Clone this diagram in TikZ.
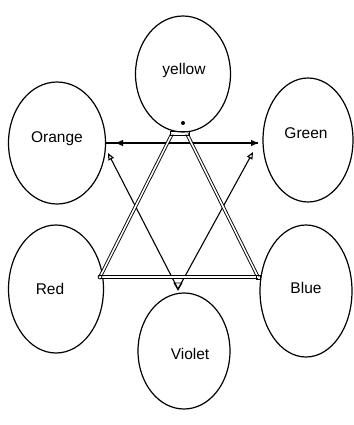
\documentclass[tikz,border=0pt]{standalone}
\usepackage{fontspec}
\setmainfont{Liberation Sans}
\usetikzlibrary{arrows.meta,shapes.geometric,calc}
\begin{document}
\begin{tikzpicture}[x=1pt,y=-1pt,
  circ/.style={draw,ellipse,line width=1.2pt,inner sep=0pt},
  lbl/.style={font=\fontsize{15.5}{18}\selectfont},
  sline/.style={line width=1.1pt},
  dbl/.style={double,line width=0.9pt,double distance=1.6pt},
  tipo/.style={-{Triangle[open,length=7pt,width=6pt]}}]
\useasboundingbox (0,0) rectangle (353,425);
\node[circ,minimum width=95pt,minimum height=116pt] (yellow) at (183,74) {};
\node[lbl] (tyellow) at (184,70) {yellow};
\node[circ,minimum width=97pt,minimum height=122pt] (orange) at (57,143) {};
\node[lbl] (torange) at (57,139) {Orange};
\node[circ,minimum width=90pt,minimum height=124pt] (green) at (308,140) {};
\node[lbl] (tgreen) at (306,133) {Green};
\node[circ,minimum width=95pt,minimum height=128pt] (red) at (56,289) {};
\node[lbl] (tred) at (50,289) {Red};
\node[circ,minimum width=92pt,minimum height=132pt] (blue) at (306,291) {};
\node[lbl] (tblue) at (306,288) {Blue};
\node[circ,minimum width=92pt,minimum height=116pt] (violet) at (184,351) {};
\node[lbl] (tviolet) at (190,354) {Violet};
% coordinates
\coordinate (ol) at (105,143);
\coordinate (oa) at (116,143);
\coordinate (gr) at (258,143);
\coordinate (od) at (108,153);
\coordinate (gd) at (253,152);
\coordinate (vt) at (178,289);
\coordinate (y1) at (172,134);
\coordinate (y2) at (187,134);
\coordinate (r1) at (100,277);
\coordinate (b1) at (258,277);
% single-line triangle
\draw[sline,tipo] (gr) -- (oa);
\draw[sline] (oa) -- (ol);
\draw[sline,tipo] (oa) -- (gr);
\draw[sline,tipo] (vt) -- (od);
\draw[sline,tipo] (vt) -- (gd);
% double-line triangle
\draw[dbl] (y1) -- (r1);
\draw[dbl] (y2) -- (b1);
\draw[dbl] (r1) -- (b1);
% small markers
\fill (183,123) circle (2pt);
\draw[line width=0.8pt] (r1) circle (2pt);
\draw[line width=0.8pt] ($(b1)+(-2,-2)$) rectangle ($(b1)+(2,2)$);
\draw[line width=0.8pt] (174,283) -- (182,283) -- (178,290) -- cycle;
\draw[line width=0.8pt] (170,131) rectangle (189,135);
\end{tikzpicture}
\end{document}
